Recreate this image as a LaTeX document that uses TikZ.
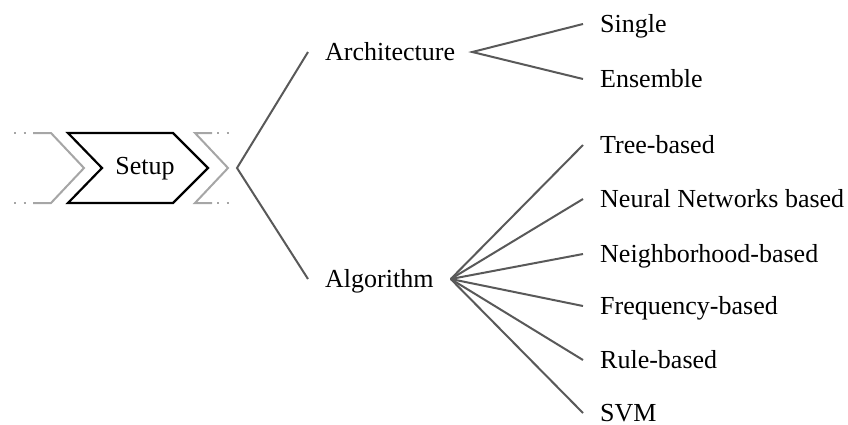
\documentclass[tikz,border=0pt]{standalone}
\usepackage{fontspec}
\setmainfont{Liberation Serif}
\begin{document}
\begin{tikzpicture}[x=1pt,y=-1pt,
  lbl/.style={anchor=west,inner xsep=17pt,inner ysep=0pt,text height=17pt,text depth=0pt,
    font=\fontsize{26}{30}\selectfont},
  branch/.style={draw=black!65,line width=2pt},
  ghost/.style={draw=black!35,line width=2pt,line join=miter},
  ghostdots/.style={draw=black!35,line width=2pt,dash pattern=on 2pt off 7.5pt},
  chev/.style={draw=black,line width=2.2pt,line join=miter}]
\useasboundingbox (0,0) rectangle (848,424);
% chevrons
\draw[ghost] (33,133) -- (51,133) -- (84,168) -- (51,203) -- (33,203);
\draw[ghostdots] (14,133) -- (33,133);
\draw[ghostdots] (14,203) -- (33,203);
\draw[chev] (68,133) -- (173,133) -- (208,168) -- (173,203) -- (68,203) -- (102,168) -- cycle;
\node[font=\fontsize{26}{30}\selectfont,inner sep=0pt,text height=17pt,text depth=0pt] (setup) at (145,166) {Setup};
\draw[ghost] (212,133) -- (195,133) -- (228,168) -- (195,203) -- (212,203);
\draw[ghostdots] (217,133) -- (230,133);
\draw[ghostdots] (217,203) -- (230,203);
% tree
\coordinate (fork) at (237,168);
\node[lbl] (arch) at (308,52) {Architecture};
\node[lbl] (alg) at (308,279) {Algorithm};
\node[lbl] (single) at (583,24) {Single};
\node[lbl] (ens) at (583,79) {Ensemble};
\node[lbl] (tree) at (583,145) {Tree-based};
\node[lbl] (nn) at (583,199) {Neural Networks based};
\node[lbl] (nb) at (583,254) {Neighborhood-based};
\node[lbl] (freq) at (583,306) {Frequency-based};
\node[lbl] (rule) at (583,360) {Rule-based};
\node[lbl] (svm) at (583,413) {SVM};
\draw[branch] (arch.west) -- (fork) -- (alg.west);
\draw[branch] (single.west) -- (arch.east) -- (ens.west);
\foreach \n in {tree,nn,nb,freq,rule,svm}
  \draw[branch] (alg.east) -- (\n.west);
\end{tikzpicture}
\end{document}
